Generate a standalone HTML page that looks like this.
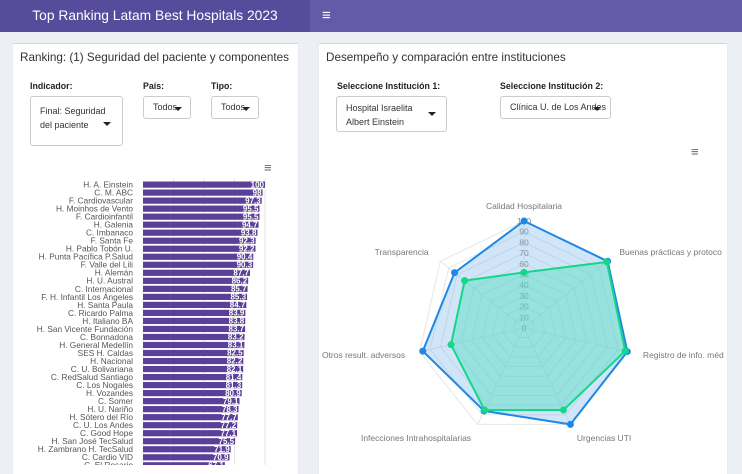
<!DOCTYPE html>
<html><head><meta charset="utf-8"><style>
body{margin:0;width:742px;height:465px;overflow:hidden;background:#ecf0f5;font-family:"Liberation Sans",sans-serif;position:relative}
.abs{position:absolute}
.hdr1{left:0;top:0;width:310px;height:32px;background:#574b9b;color:#fff;font-size:13.8px;line-height:32px;text-align:center}
.hdr2{left:310px;top:0;width:432px;height:32px;background:#635aa8;color:#fff;font-size:15px;line-height:32px}
.card{background:#fff;border-top:1px solid #d2d6de;box-shadow:0 1px 1px rgba(0,0,0,.1)}
.t{font-size:11.7px;color:#333}
.lbl{font-size:8.8px;font-weight:bold;color:#222}
.sel{border:1px solid #ccc;border-radius:3px;background:#fff;font-size:9px;color:#333;box-sizing:border-box}
.caret{position:absolute;width:0;height:0;border-left:4px solid transparent;border-right:4px solid transparent;border-top:4px solid #222}
</style></head><body>
<div class="abs hdr1">Top Ranking Latam Best Hospitals 2023</div>
<div class="abs hdr2"><span style="margin-left:12px">≡</span></div>

<div class="abs card" style="left:13px;top:43px;width:285px;height:430px"></div>
<div class="abs t" style="left:20px;top:51px">Ranking: (1) Seguridad del paciente y componentes</div>
<div class="abs lbl" style="left:30px;top:81px">Indicador:</div>
<div class="abs sel" style="left:30px;top:96px;width:93px;height:50px;padding:7px 9px;line-height:14px">Final: Seguridad<br>del paciente<span class="caret" style="left:72px;top:25px"></span></div>
<div class="abs lbl" style="left:143px;top:81px">País:</div>
<div class="abs sel" style="left:143px;top:96px;width:48px;height:23px;padding:5px 9px">Todos<span class="caret" style="left:30px;top:10px"></span></div>
<div class="abs lbl" style="left:211px;top:81px">Tipo:</div>
<div class="abs sel" style="left:211px;top:96px;width:48px;height:23px;padding:5px 9px">Todos<span class="caret" style="left:30px;top:10px"></span></div>
<div class="abs" style="left:264px;top:160px;color:#666;font-size:13px">≡</div>
<svg id="bars" class="abs" style="left:0;top:0" width="300" height="465"></svg>

<div class="abs card" style="left:319px;top:43px;width:408px;height:430px"></div>
<div class="abs t" style="left:326px;top:51px">Desempeño y comparación entre instituciones</div>
<div class="abs lbl" style="left:337px;top:81px">Seleccione Institución 1:</div>
<div class="abs sel" style="left:336px;top:96px;width:111px;height:36px;padding:4px 9px;line-height:14px">Hospital Israelita<br>Albert Einstein<span class="caret" style="left:91px;top:15px"></span></div>
<div class="abs lbl" style="left:500px;top:81px">Seleccione Institución 2:</div>
<div class="abs sel" style="left:500px;top:96px;width:111px;height:23px;padding:5px 9px;white-space:nowrap">Clínica U. de Los Andes<span class="caret" style="left:92px;top:10px"></span></div>
<div class="abs" style="left:691px;top:144px;color:#666;font-size:13px">≡</div>
<svg id="radar" class="abs" style="left:319px;top:0" width="420" height="465"></svg>

<script>
const names=["H. A. Einstein","C. M. ABC","F. Cardiovascular","H. Moinhos de Vento","F. Cardioinfantil","H. Galenia","C. Imbanaco","F. Santa Fe","H. Pablo Tobón U.","H. Punta Pacífica P.Salud","F. Valle del Lili","H. Alemán","H. U. Austral","C. Internacional","F. H. Infantil Los Ángeles","H. Santa Paula","C. Ricardo Palma","H. Italiano BA","H. San Vicente Fundación","C. Bonnadona","H. General Medellín","SES H. Caldas","H. Nacional","C. U. Bolivariana","C. RedSalud Santiago","C. Los Nogales","H. Vozandes","C. Somer","H. U. Nariño","H. Sótero del Río","C. U. Los Andes","C. Good Hope","H. San José TecSalud","H. Zambrano H. TecSalud","C. Cardio VID","C. El Rosario"];
const scores=[100,98,97.3,95.5,95.5,94.7,93.8,92.3,92.2,90.4,90.3,87.7,86.2,85.7,85.3,84.7,83.9,83.8,83.7,83.2,83.1,82.5,82.2,82.1,81.4,81.3,80.9,79.1,78.3,77.7,77.2,77.1,75.5,71.9,70.9,67.1];
const NS="http://www.w3.org/2000/svg";
function mk(p,t,a){const e=document.createElementNS(NS,t);for(const k in a)e.setAttribute(k,a[k]);p.appendChild(e);return e;}
const bs=document.getElementById('bars');
const x0=143,xs=v=>x0+v*1.22,yb=i=>181.5+i*8.02;
[25,50,75,100].forEach(v=>{const g=mk(bs,'line',{x1:xs(v),x2:xs(v),y1:178,y2:465,stroke:'#e6e6e6'});

});
names.forEach((n,i)=>{
 const r=mk(bs,'rect',{x:x0,y:yb(i),width:xs(scores[i])-x0,height:6.2,fill:'#5b3f98'});
 
 
 const l=mk(bs,'text',{x:133,y:yb(i)+6,'text-anchor':'end','font-size':'8.3',fill:'#555'});l.textContent=n;
 
 
 const v=mk(bs,'text',{x:xs(scores[i])-1,y:yb(i)+5.8,'text-anchor':'end','font-size':'8',fill:'#fff','font-weight':'bold'});v.textContent=scores[i];
 
 
});
const axes=["Calidad Hospitalaria","Buenas prácticas y protoco","Registro de info. méd","Urgencias UTI","Infecciones Intrahospitalarias","Otros result. adversos","Transparencia"];
const inst1=[100,100,99,100,86,97,83];
const inst2=[52,99,97,85,85,70,71];
const ticks=[0,10,20,30,40,50,60,70,80,90,100];
const rs=document.getElementById('radar');
const cx=205,cy=328,R=107;
const pt=(i,v,rr=R)=>{const a=-Math.PI/2+i*2*Math.PI/7;return [cx+Math.cos(a)*v/100*rr,cy+Math.sin(a)*v/100*rr];};
ticks.slice(1).forEach(t=>{const g=mk(rs,'polygon',{points:axes.map((_,i)=>pt(i,t).join(',')).join(' '),fill:'none',stroke:'#e6e6e6'});

});
axes.forEach((a,i)=>{const p=pt(i,100);const g=mk(rs,'line',{x1:cx,y1:cy,x2:p[0],y2:p[1],stroke:'#e6e6e6'});


 const q=pt(i,114);const c=Math.cos(-Math.PI/2+i*2*Math.PI/7);
 const tx=mk(rs,'text',{x:q[0],y:q[1]+3,'font-size':'8.5',fill:'#777','text-anchor':Math.abs(c)<0.1?'middle':(c>0?'start':'end')});tx.textContent=a;
 
 });
ticks.forEach(t=>{const e=mk(rs,'text',{x:cx,y:cy-t/100*R+3,'font-size':'8.5',fill:'#888','text-anchor':'middle'});e.textContent=t;

});
[[inst1,'#1e88e5','rgba(124,181,236,0.35)'],[inst2,'#16d68a','rgba(80,220,190,0.45)']].forEach(([d,c,f],k)=>{
 const pg=mk(rs,'polygon',{points:d.map((v,i)=>pt(i,v).join(',')).join(' '),fill:f,stroke:c,'stroke-width':2});
 
 
 d.forEach((v,i)=>{const p=pt(i,v);const m=mk(rs,'circle',{cx:p[0],cy:p[1],r:3.5,fill:c});
 
 });
});
</script>
</body></html>
